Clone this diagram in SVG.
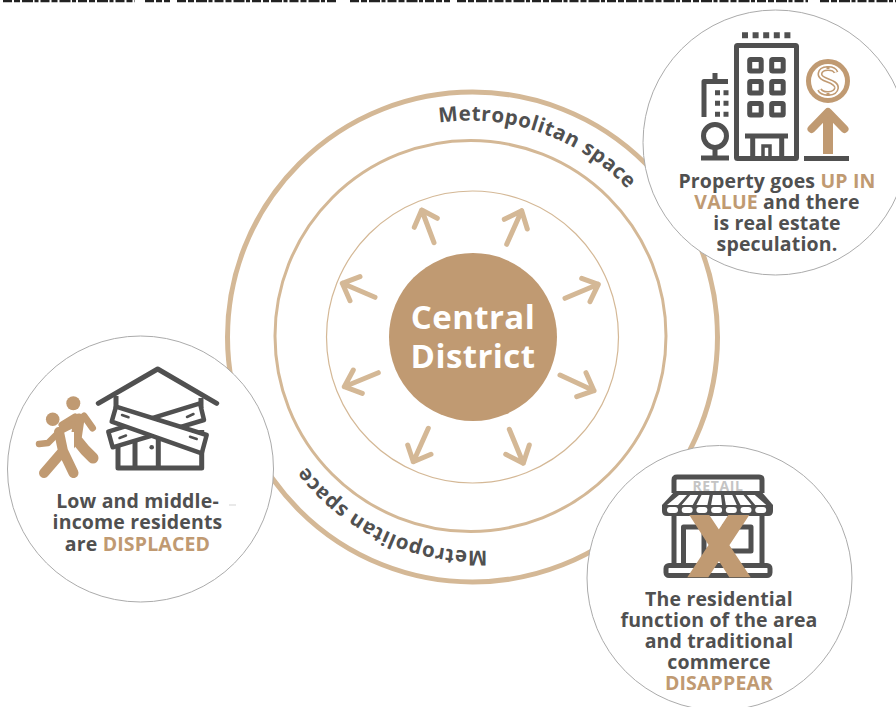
<svg xmlns="http://www.w3.org/2000/svg" width="896" height="707" viewBox="0 0 896 707">
<style>
text{font-family:"Open Sans","Noto Sans",sans-serif;font-weight:700}
.t{font-size:19.5px;fill:#505050;text-anchor:middle;letter-spacing:.15px}
.h{fill:#c09a72}
.ring{fill:none;stroke:#d4b896}
.bubble{fill:#fff;stroke:#ababab;stroke-width:1}
.arrow{fill:none;stroke:#d4b896;stroke-width:5;stroke-linecap:round;stroke-linejoin:round}
.d{fill:none;stroke:#505050;stroke-width:5;stroke-linejoin:round}
.dr{fill:none;stroke:#505050;stroke-width:5;stroke-linecap:round;stroke-linejoin:round}
.b{fill:none;stroke:#c09a72;stroke-linecap:round;stroke-linejoin:round}
.ml{font-size:20.5px;fill:#505050;letter-spacing:.5px}
.bd{fill:#fff;stroke:#505050;stroke-width:4.500;stroke-linejoin:round}
</style>
<defs>
<path id="arcTop" d="M439.100 122.700A217 217 0 0 1 506.900 551.300"/>
<path id="arcBot" d="M487.200 550.500A214 214 0 0 1 458.800 123.500"/>
</defs>
<rect width="896" height="707" fill="#fff"/>
<g id="clipped-title">
<path d="M3 1H135M145 1H170M177 1H338M350 1H450M457 1H808M820 1H896" stroke="#222" stroke-width="2.500" stroke-dasharray="9 2 6 2 11 1.500 4 2"/>
</g>
<g id="rings">
<circle class="ring" cx="472.500" cy="337" r="245" stroke-width="5"/>
<circle class="ring" cx="470.500" cy="336" r="195.500" stroke-width="3"/>
<circle class="ring" cx="472.500" cy="337" r="146" stroke-width="1.200"/>
</g>
<g id="metropolitan-top"><text class="ml"><textPath href="#arcTop">Metropolitan space</textPath></text></g>
<g id="metropolitan-bottom"><text class="ml"><textPath href="#arcBot">Metropolitan space</textPath></text></g>
<g id="connectors">
<path class="arrow" d="M434 242.700L421.700 210M414.300 227.300L421.700 210L437.300 218.300"/>
<path class="arrow" d="M506.700 244.300L521.700 210.700M504.300 219.300L521.700 210.700L527.300 229"/>
<path class="arrow" d="M565 298.300L598.300 284.300M581.700 278.300L598.300 284.300L590 301.700"/>
<path class="arrow" d="M560 375L594 390.700M586 372.700L594 390.700L576.700 396.700"/>
<path class="arrow" d="M509.300 429.300L523.300 463.300M529.300 445L523.300 463.300L505.700 454.300"/>
<path class="arrow" d="M428.300 428.300L413.300 461.700M407.700 445L413.300 461.700L431 454.300"/>
<path class="arrow" d="M378.300 372.700L344.300 386.700M353.300 370L344.300 386.700L362.300 393.300"/>
<path class="arrow" d="M375 297.300L342.300 283.300M360 276.700L342.300 283.300L350 300.700"/>
</g>
<g id="central-district">
<circle cx="473" cy="337" r="84" fill="#c09a72"/>
<text x="473" y="329" font-size="33" fill="#fff" text-anchor="middle" letter-spacing=".4">Central</text>
<text x="473" y="368" font-size="33" fill="#fff" text-anchor="middle" letter-spacing=".4">District</text>
</g>
<g id="property-value">
<circle class="bubble" cx="775.500" cy="142.500" r="132.500"/>
<path d="M742 35.300H792" stroke="#505050" stroke-width="6" stroke-dasharray="6 4.600" fill="none"/>
<rect class="d" x="736.500" y="45.500" width="60" height="113" rx="1"/>
<g class="d">
<rect x="749.700" y="59.500" width="11.500" height="11.500" rx="1"/><rect x="771.700" y="59.500" width="11.500" height="11.500" rx="1"/>
<rect x="749.700" y="81.500" width="11.500" height="11.500" rx="1"/><rect x="771.700" y="81.500" width="11.500" height="11.500" rx="1"/>
<rect x="749.700" y="103.500" width="11.500" height="11.500" rx="1"/><rect x="771.700" y="103.500" width="11.500" height="11.500" rx="1"/>
</g>
<path class="d" d="M745 136H788M752.700 136V158M781.700 136V158"/>
<path d="M763 158V146H770V158" fill="none" stroke="#505050" stroke-width="3.500"/>
<path class="d" d="M704 117V81.500H728M715 73V81.500"/>
<path d="M715 92.700h5M723.500 92.700h5M715 103.300h5M723.500 103.300h5M715 114.300h5M723.500 114.300h5" stroke="#505050" stroke-width="5" fill="none"/>
<circle class="d" cx="715" cy="136" r="11.500"/>
<path class="d" d="M715 148V158M701 158H729M804 158.500H849"/>
<circle class="b" cx="828" cy="81" r="19.500" stroke-width="5"/>
<path d="M836 72.500C834 67 821 67 820 73.500C819 81 837 80 836.500 88C835.500 95 822 95 819.500 89.500" fill="none" stroke="#c09a72" stroke-width="5"/>
<path d="M836 72.500C834 67 821 67 820 73.500C819 81 837 80 836.500 88C835.500 95 822 95 819.500 89.500" fill="none" stroke="#fff" stroke-width="1.800"/>
<path d="M828 66V69M828 93V96" stroke="#c09a72" stroke-width="3" fill="none"/>
<path d="M828 154V114" stroke="#c09a72" stroke-width="10" fill="none"/>
<path class="b" d="M811.500 129L828 112L844.500 129" stroke-width="8"/>
<text class="t" x="777" y="188">Property goes <tspan class="h">UP IN</tspan></text>
<text class="t" x="777" y="209"><tspan class="h">VALUE</tspan> and there</text>
<text class="t" x="777" y="230">is real estate</text>
<text class="t" x="777" y="251">speculation.</text>
</g>
<g id="residents-displaced">
<circle class="bubble" cx="140.500" cy="469" r="133"/>
<path class="d" d="M116 396V408M201 398V408M118 430V468H201.700V430"/>
<path class="d" stroke-width="4" d="M135 440V468M158.300 435V468"/>
<circle cx="151.700" cy="447.300" r="2.300" fill="#505050"/>
<path class="bd" d="M108.300 431.700L200 403.300L204 420L112.700 447.300Z"/>
<path class="bd" d="M116 406.700L206.700 435L201.700 453.300L111.700 421.700Z"/>
<path d="M122 415L128.500 417.300M190 436.700L196.700 439M119.500 438L126 435.500M187 417L193.500 414" stroke="#505050" stroke-width="2.500" stroke-linecap="round" fill="none"/>
<path class="dr" stroke-width="5.500" d="M98.300 403.300L157.700 369L216.700 403.300"/>
<circle cx="73.300" cy="403.300" r="7" fill="#c09a72"/>
<circle cx="52.700" cy="419.300" r="6.800" fill="#c09a72"/>
<path class="b" stroke-width="11" d="M79 419L76 439L85 450L93 458"/>
<path class="b" stroke-width="7" d="M84 416L92.500 428M75 417L62 425"/>
<path class="b" stroke-width="8" d="M76 438L65 455"/>
<path fill="none" stroke="#fff" stroke-width="12" stroke-linejoin="round" d="M68 432L68 452L76 464"/>
<path class="b" stroke-width="10" d="M59 432L63 451L44 473M63 451L73.500 473"/>
<path class="b" stroke-width="6.500" d="M58 433L48 443L39 444M60 431L72 425"/>
<text class="t" x="137.500" y="508">Low and middle-</text>
<text class="t" x="137.500" y="529">income residents</text>
<text class="t" x="137.500" y="551">are <tspan class="h">DISPLACED</tspan></text>
<path d="M229 505H236" stroke="#e2e2e2" stroke-width="1.500"/>
</g>
<g id="residential-disappear">
<circle class="bubble" cx="719.500" cy="578" r="132.500"/>
<text x="718" y="491" font-size="14" fill="#c4c4c4" text-anchor="middle" letter-spacing=".6">RETAIL</text>
<path class="d" d="M674 493V480Q674 477 677 477H759Q762 477 762 480V493"/>
<path d="M675 491H761L773 505V511Q773 516 768 516H667Q662 516 662 511V505Z" fill="#505050"/>
<path fill="#fff" d="M679 495h8L678 505h-11ZM690.300 495h8L692.700 505h-11ZM701.600 495h8L707.400 505h-11ZM712.900 495h8L722.100 505h-11ZM724.200 495h8L736.800 505h-11ZM735.500 495h8L751.500 505h-11ZM746.800 495h8L766.200 505h-11Z"/>
<g fill="#fff"><rect x="667" y="507" width="11" height="6" rx="3"/><rect x="681.700" y="507" width="11" height="6" rx="3"/><rect x="696.400" y="507" width="11" height="6" rx="3"/><rect x="711.100" y="507" width="11" height="6" rx="3"/><rect x="725.800" y="507" width="11" height="6" rx="3"/><rect x="740.500" y="507" width="11" height="6" rx="3"/><rect x="755.200" y="507" width="11" height="6" rx="3"/></g>
<path d="M674 514V566M762 514V566" stroke="#505050" stroke-width="5"/>
<path d="M683.500 566V527H704V566M722 527H751V551H706" class="d"/>
<rect class="d" x="666" y="565.500" width="104" height="10" rx="3"/>
<path d="M689.300 515H709.300L750.700 577.300H729.300ZM728.300 515H749.300L708.300 577.300H687.300Z" fill="#c09a72"/>
<text class="t" x="719" y="606">The residential</text>
<text class="t" x="719" y="627">function of the area</text>
<text class="t" x="719" y="648">and traditional</text>
<text class="t" x="719" y="669">commerce</text>
<text class="t h" x="719" y="690">DISAPPEAR</text>
</g>
</svg>
